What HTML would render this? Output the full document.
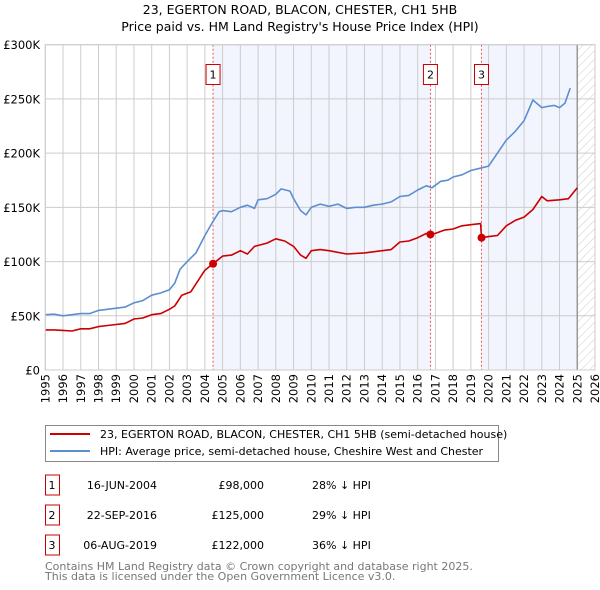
<!DOCTYPE html>
<html><head><meta charset="utf-8"><style>
body{margin:0;background:#fff}
svg{display:block;font-family:"DejaVu Sans","Liberation Sans",sans-serif}
</style></head><body>
<svg id="c" width="600" height="590" xmlns="http://www.w3.org/2000/svg">
<text x="300" y="14" text-anchor="middle" font-size="12.5">23, EGERTON ROAD, BLACON, CHESTER, CH1 5HB</text>
<text x="300" y="31" text-anchor="middle" font-size="12.5">Price paid vs. HM Land Registry's House Price Index (HPI)</text>
<g id="plot"></g>
<g>
<rect x="45.5" y="425.5" width="453" height="36" fill="#fff" stroke="#888"/>
<line x1="50" y1="434" x2="90" y2="434" stroke="#cc0000" stroke-width="2"/>
<text x="100" y="438" font-size="11">23, EGERTON ROAD, BLACON, CHESTER, CH1 5HB (semi-detached house)</text>
<line x1="50" y1="451" x2="90" y2="451" stroke="#5b8fd0" stroke-width="2"/>
<text x="100" y="455" font-size="11">HPI: Average price, semi-detached house, Cheshire West and Chester</text>
</g>
<g id="table" font-size="11"></g>
<text x="45" y="570" font-size="11" fill="#777">Contains HM Land Registry data © Crown copyright and database right 2025.</text>
<text x="45" y="580" font-size="11" fill="#777">This data is licensed under the Open Government Licence v3.0.</text>
</svg>
<script>
const hpiT=[1995,1995.5,1996,1996.5,1997,1997.5,1998,1998.5,1999,1999.5,2000,2000.5,2001,2001.5,2002,2002.3,2002.6,2003,2003.5,2004,2004.46,2004.8,2005,2005.5,2006,2006.4,2006.8,2007,2007.5,2008,2008.3,2008.8,2009,2009.4,2009.7,2010,2010.5,2011,2011.5,2012,2012.5,2013,2013.5,2014,2014.5,2015,2015.5,2016,2016.5,2016.8,2017.3,2017.7,2018,2018.5,2019,2019.5,2020,2020.5,2021,2021.5,2022,2022.5,2023,2023.3,2023.7,2024,2024.3,2024.6,2025];
const hpiV=[51,51.5,50,51,52,52,55,56,57,58,62,64,69,71,74,80,93,100,108,124,137,146,147,146,150,152,149,157,158,162,167,165,158,147,143,150,153,151,153,149,150,150,152,153,155,160,161,166,170,168,174,175,178,180,184,186,188,200,212,220,230,249,242,243,244,242,246,260];
const redT=[1995,1995.5,1996,1996.5,1997,1997.5,1998,1998.5,1999,1999.5,2000,2000.5,2001,2001.5,2002,2002.3,2002.7,2003.2,2003.6,2004,2004.46,2005,2005.5,2006,2006.4,2006.8,2007.5,2008,2008.5,2009,2009.4,2009.7,2010,2010.5,2011,2012,2013,2014,2014.5,2015,2015.5,2016,2016.5,2016.72,2017,2017.5,2018,2018.5,2019,2019.55,2019.6,2020,2020.5,2021,2021.5,2022,2022.5,2023,2023.3,2024,2024.5,2025];
const redV=[37,37,36.5,36,38,38,40,41,42,43,47,48,51,52,56,59,69,72,82,92,98,105,106,110,107,114,117,121,119,114,106,103,110,111,110,107,108,110,111,118,119,122,126,125,126,129,130,133,134,135,122,123,124,133,138,141,148,160,156,157,158,168];
const saleT=[2004.46,2016.72,2019.6];
const saleV=[98,125,122];
const saleLabels=["1","2","3"];
const saleDates=["16-JUN-2004","22-SEP-2016","06-AUG-2019"];
const salePrices=["£98,000","£125,000","£122,000"];
const salePct=["28% ↓ HPI","29% ↓ HPI","36% ↓ HPI"];
const yTicks=[0,50,100,150,200,250,300];
const yTickLabels=["£0","£50K","£100K","£150K","£200K","£250K","£300K"];
const years=[];for(let y=1995;y<=2026;y++)years.push(y);
const X0=45.3,X1=595,Y0=370,Y1=44.7;
const xs=t=>X0+(t-1995)/(2026-1995)*(X1-X0);
const ys=v=>Y0-(v/300)*(Y0-Y1);
const NS="http://www.w3.org/2000/svg";
const plot=document.getElementById('plot');
function mk(tag,attrs,parent){const e=document.createElementNS(NS,tag);for(const k in attrs)e.setAttribute(k,attrs[k]);(parent||plot).appendChild(e);return e;}
const defs=mk('defs',{});
const pat=mk('pattern',{id:'hatch',width:'6',height:'6',patternUnits:'userSpaceOnUse',patternTransform:'rotate(45)'},defs);
mk('line',{x1:'0',y1:'0',x2:'0',y2:'6',stroke:'#ccc','stroke-width':'1'},pat);
let r=mk('rect',{x:X0,y:Y1,width:X1-X0,height:Y0-Y1,fill:'#fff'});


r=mk('rect',{x:xs(saleT[0]),y:Y1,width:xs(saleT[1])-xs(saleT[0]),height:Y0-Y1,fill:'#f2f5fd'});


r=mk('rect',{x:xs(saleT[2]),y:Y1,width:xs(2025)-xs(saleT[2]),height:Y0-Y1,fill:'#f2f5fd'});


r=mk('rect',{x:xs(2025),y:Y1,width:X1-xs(2025),height:Y0-Y1,fill:'url(#hatch)'});


years.forEach(y=>{const l=mk('line',{x1:xs(y),x2:xs(y),y1:Y1,y2:Y0,stroke:'#ccc','stroke-width':'1'});


const t=mk('text',{x:0,y:0,'font-size':'11.5','text-anchor':'end',transform:`translate(${xs(y)+4},${Y0+4}) rotate(-90)`});t.textContent=y;

});
yTicks.forEach((v,i)=>{const l=mk('line',{x1:X0,x2:X1,y1:ys(v),y2:ys(v),stroke:'#ccc','stroke-width':'1'});


const t=mk('text',{x:40,y:ys(v)+4.5,'font-size':'11.5','text-anchor':'end'});t.textContent=yTickLabels[i];

});
let l=mk('line',{x1:xs(2025),x2:xs(2025),y1:Y1,y2:Y0,stroke:'#999','stroke-width':'1.5'});


saleT.forEach((t,i)=>{const vl=mk('line',{x1:xs(t),x2:xs(t),y1:Y1,y2:Y0,stroke:'#e55','stroke-width':'1','stroke-dasharray':'2,2'});


const b=mk('rect',{x:xs(t)-7,y:64.5,width:14,height:20,fill:'#fff',stroke:'#cc0000'});


const tx=mk('text',{x:xs(t),y:78.5,'font-size':'11','text-anchor':'middle'});tx.textContent=saleLabels[i];

});
const line=(T,V,c,n)=>{const p=mk('polyline',{points:T.map((t,i)=>xs(t).toFixed(1)+','+ys(V[i]).toFixed(1)).join(' '),fill:'none',stroke:c,'stroke-width':'1.6','stroke-linejoin':'round'});

};
line(hpiT,hpiV,'#5b8fd0','hpi-line');
line(redT,redV,'#cc0000','property-price-line');
saleT.forEach((t,i)=>{const c=mk('circle',{cx:xs(t),cy:ys(saleV[i]),r:4,fill:'#cc0000'});

});
const fr=mk('rect',{x:X0,y:Y1,width:X1-X0,height:Y0-Y1,fill:'none',stroke:'#ccc'});


const tb=document.getElementById('table');
saleT.forEach((t,i)=>{const cy=485+i*30;
const b=mk('rect',{x:45.5,y:cy-10,width:14,height:20,fill:'#fff',stroke:'#cc0000'},tb);


const cells=[[52,'middle',saleLabels[i],'table-index'],[157,'end',saleDates[i],'table-date'],[264,'end',salePrices[i],'table-price'],[312,'start',salePct[i],'table-hpi-diff']];
cells.forEach(c=>{const tx=mk('text',{x:c[0],y:cy+4,'text-anchor':c[1]},tb);tx.textContent=c[2];

});});
</script>
</body></html>
